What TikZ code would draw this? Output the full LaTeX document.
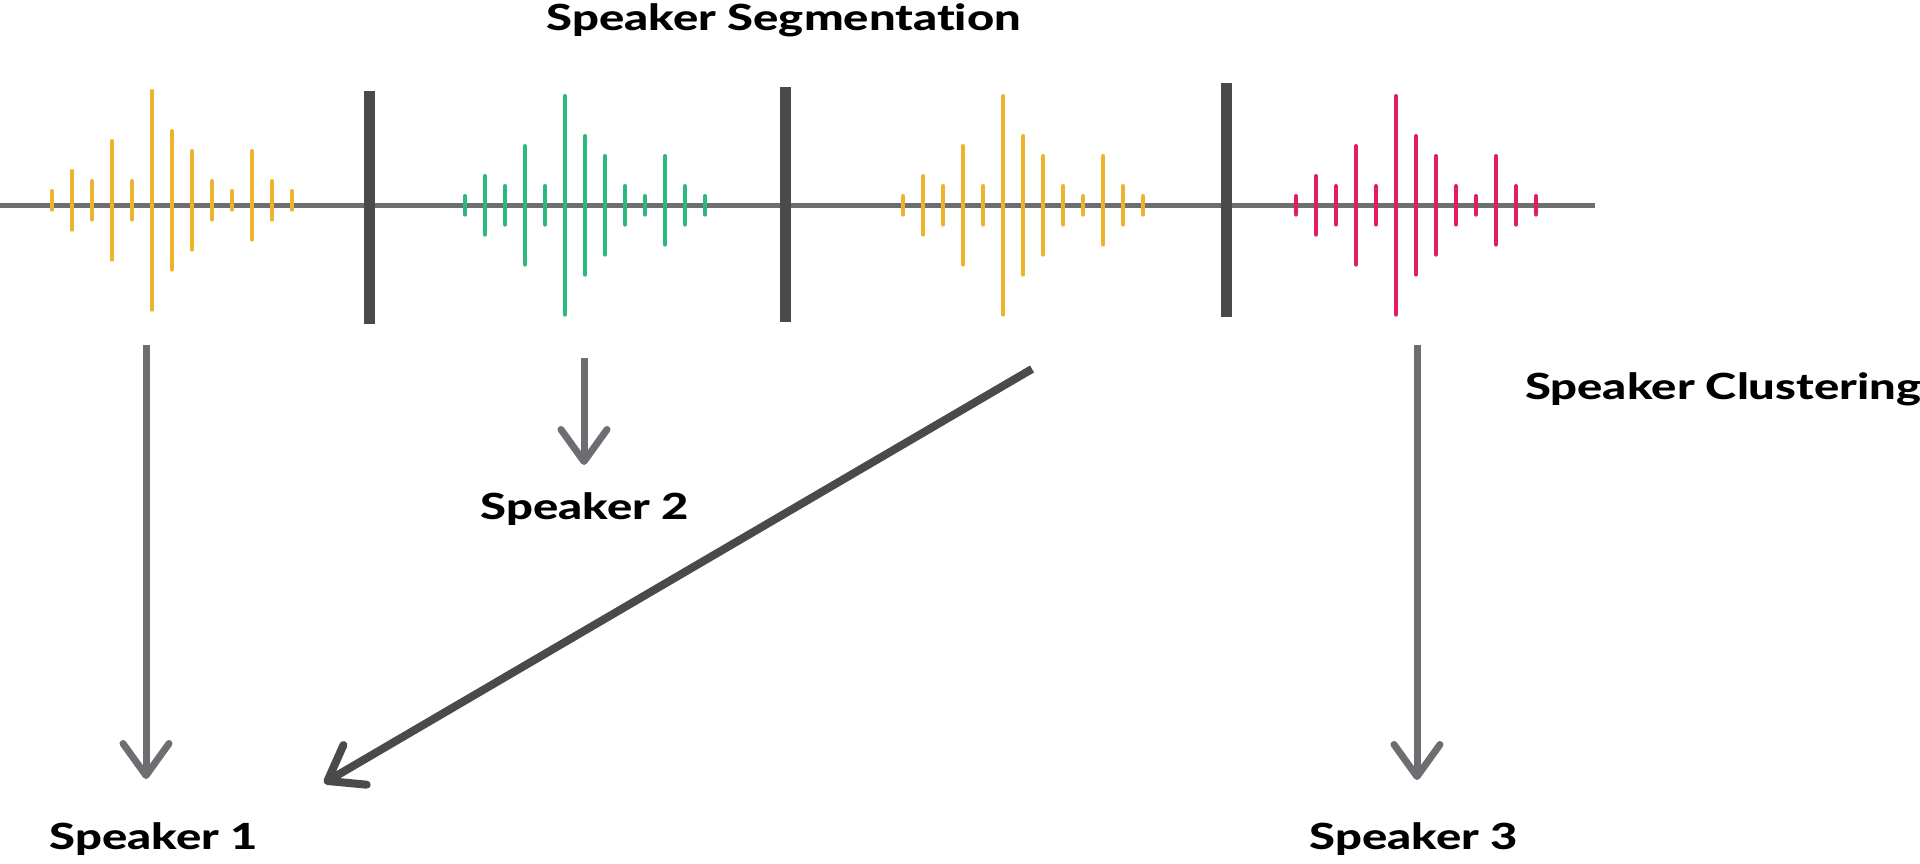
\documentclass[tikz,border=0pt]{standalone}
\usepackage{graphicx}
\usepackage{fontspec}
\setmainfont{Lato}[Ligatures={NoCommon},BoldFont={Lato Heavy}]
\usetikzlibrary{arrows.meta}
\definecolor{axisgray}{HTML}{6D6E71}
\definecolor{sepgray}{HTML}{4A4A4A}
\definecolor{wyellow}{HTML}{EFB22C}
\definecolor{wgreen}{HTML}{2DB97C}
\definecolor{wred}{HTML}{E21F5A}
\newcommand\widetext[1]{\scalebox{1.31}[1]{#1}}
\tikzset{
  wavebar/.style={line width=4pt, line cap=round},
  sepbar/.style={line width=11pt, draw=sepgray},
  axisline/.style={line width=5.5pt, draw=axisgray},
  label/.style={font=\bfseries\fontsize{36}{40}\selectfont, anchor=base, inner sep=0pt},
  grayarrow/.style={line width=7pt, draw=axisgray, -{Straight Barb[length=32pt,width=46pt,round]}},
  darkarrow/.style={line width=8pt, draw=sepgray, -{Straight Barb[length=32pt,width=46pt,round]}}
}
\newcommand\wavegroup[3]{%
  \foreach \h/\o [count=\i] in {11.3/0,31.3/0,21.3/0,61.3/0,21.3/0,111.3/0,71.3/0,51.3/0,21.3/0,11.3/0,46.3/-5,21.3/0,11.3/0}{
    \draw[wavebar,draw=#2] ({#1+20*(\i-1)},{205.3+#3+\o-\h+2}) -- ++(0,{2*\h-4});
  }%
}
\begin{document}
\begin{tikzpicture}[x=1pt,y=-1pt]
\useasboundingbox[fill=white] (0,0) rectangle (1920,863);
% axis
\draw[axisline] (0,205.3) -- (1595,205.3);
% waves
\wavegroup{52}{wyellow}{-5}
\wavegroup{465}{wgreen}{0}
\wavegroup{903.3}{wyellow}{0}
\wavegroup{1296}{wred}{0}
% separators
\draw[sepbar] (369.5,90.7) -- (369.5,324);
\draw[sepbar] (785,87.3) -- (785,322.3);
\draw[sepbar] (1226,82.7) -- (1226,317.3);
% labels
\node[label] (seg) at (784,30) {\widetext{Speaker Segmentation}};
\node[label, anchor=base west] (clu) at (1525,399) {\widetext{Speaker Clustering}};
\node[label] (s1) at (154,849) {\widetext{Speaker 1}};
\node[label] (s2) at (585,519) {\widetext{Speaker 2}};
\node[label] (s3) at (1414,849) {\widetext{Speaker 3}};
% arrow endpoints
\coordinate (a1s) at (146,345);
\coordinate (a1e) at (146,779);
\coordinate (a2s) at (584,357.5);
\coordinate (a2e) at (584,465);
\coordinate (a3s) at (1417,345);
\coordinate (a3e) at (1417,780);
\coordinate (a4s) at (1032,369);
\coordinate (a4e) at (324,783);
\draw[grayarrow] (a1s) -- (a1e);
\draw[grayarrow] (a2s) -- (a2e);
\draw[grayarrow] (a3s) -- (a3e);
\draw[darkarrow] (a4s) -- (a4e);
\end{tikzpicture}
\end{document}
